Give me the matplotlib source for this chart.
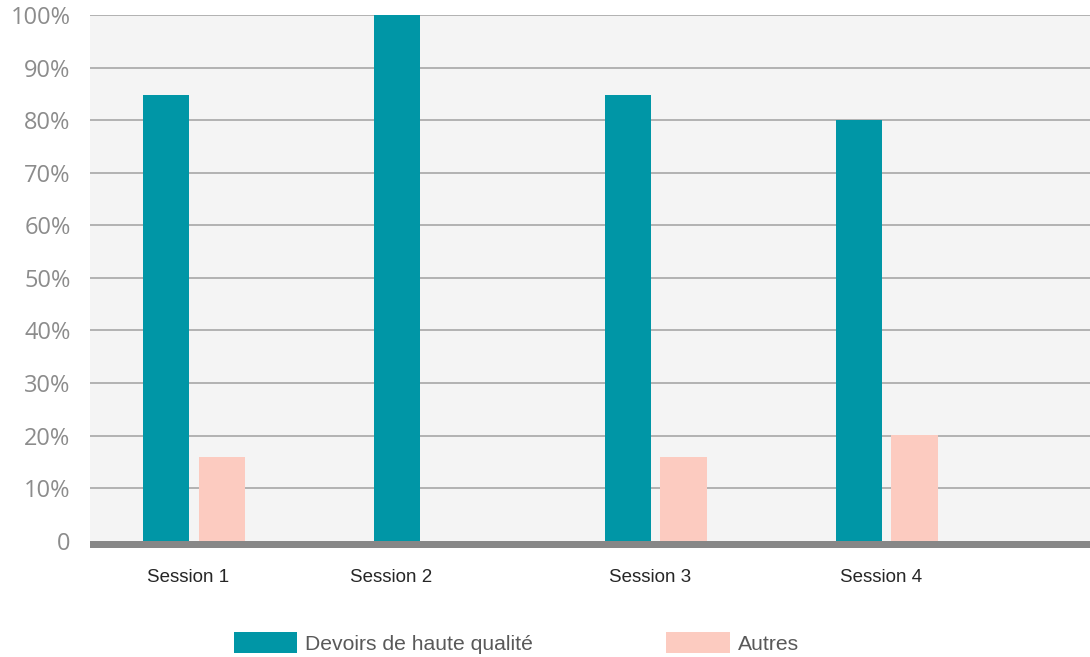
import numpy as np
import matplotlib.pyplot as plt

# DATA ------------------------------------------------------------------------
sessions = ["Session 1", "Session 2", "Session 3", "Session 4"]
haute = [84.7, 100.0, 84.7, 80.0]     # Devoirs de haute qualité
autres = [15.9, 0.0, 15.9, 20.1]      # Autres
yticks = [0, 10, 20, 30, 40, 50, 60, 70, 80, 90, 100]
ylabels = ["0"] + ["%d%%" % v for v in yticks[1:]]

teal = "#0096a6"; pink = "#fccbc0"
grid_c = "#a6a6a6"; base_c = "#878787"; bg = "#f4f4f4"

# FIGURE ----------------------------------------------------------------------
W, H = 1090, 657
fig = plt.figure(figsize=(W/100, H/100), dpi=100)
ax = fig.add_axes([90/W, 1-548/H, 1-90/W, (548-15)/H])
ax.set_facecolor(bg)

x = np.arange(len(sessions))
bw = 0.2; off = 0.12
ax.bar(x-off, haute, bw, color=teal, label="Devoirs de haute qualité", zorder=3)
ax.bar(x+off, autres, bw, color=pink, label="Autres", zorder=3)

ax.set_ylim(-1.4, 100)
ax.set_xlim(-0.45, 3.88)
ax.axhspan(-1.4, 0, color=base_c, zorder=4, lw=0)
for v in yticks[1:]:
    ax.axhline(v, color=grid_c, lw=1.2, zorder=1)

for s in ax.spines.values():
    s.set_visible(False)

ax.set_yticks(yticks)
ax.set_yticklabels(ylabels, fontsize=17, color="#8c8c8c", family="Open Sans")
ax.tick_params(axis="y", length=0, pad=14)

# label sits under the centre of the bars that are present
tpos = []
for i in range(len(sessions)):
    c = [x[i]-off] + ([x[i]+off] if autres[i] > 0 else [])
    tpos.append(np.mean(c) - 0.025)
ax.set_xticks(tpos)
ax.set_xticklabels(sessions, fontsize=13.5, color="#262626", family="Liberation Sans")
ax.tick_params(axis="x", length=0, pad=15)

fig.legend(loc="center left", bbox_to_anchor=(234/W, 1-643/H), ncol=2,
           frameon=False, borderpad=0, borderaxespad=0,
           handlelength=3.0, handleheight=1.1, handletextpad=0.38,
           columnspacing=6.3,
           prop={"family": "Liberation Sans", "size": 15.2},
           labelcolor="#595959")

fig.savefig("out.png", dpi=100)
